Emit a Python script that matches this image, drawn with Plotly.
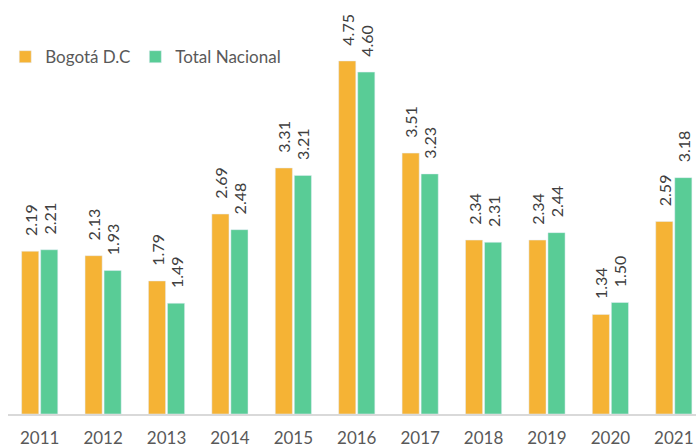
import plotly.graph_objects as go

years = ["2011", "2012", "2013", "2014", "2015", "2016", "2017", "2018", "2019", "2020", "2021"]
bogota = [2.19, 2.13, 1.79, 2.69, 3.31, 4.75, 3.51, 2.34, 2.34, 1.34, 2.59]
nacional = [2.21, 1.93, 1.49, 2.48, 3.21, 4.60, 3.23, 2.31, 2.44, 1.50, 3.18]

FONT = "Lato"
PAD = "\u00a0" * 3
fig = go.Figure()
for name, vals, col in [("Bogotá D.C", bogota, "#F5B335"), ("Total Nacional", nacional, "#59CC96")]:
    fig.add_trace(go.Bar(x=years, y=vals, name=name, marker_color=col,
                         texttemplate=PAD + "%{y:.2f}", textposition="outside", textangle=-90,
                         constraintext="none",
                         textfont=dict(size=16, color="#404040", family=FONT), cliponaxis=False))

fig.update_layout(
    width=696, height=448,
    margin=dict(l=8, r=0, t=0, b=34),
    plot_bgcolor="white", paper_bgcolor="white",
    barmode="group", bargap=0.4, bargroupgap=0.1,
    font=dict(family=FONT, color="#595959", size=16),
    legend=dict(orientation="h", x=-0.004, y=0.862, xanchor="left", yanchor="middle",
                font=dict(size=17, color="#595959"), bgcolor="rgba(0,0,0,0)",
                itemwidth=30, tracegroupgap=0),
    showlegend=True,
)
fig.update_xaxes(type="category", range=[-0.5, 10.35], showline=True, linecolor="#D9D9D9",
                 linewidth=2, ticks="", tickfont=dict(size=17, color="#595959"), showgrid=False,
                 ticklabelstandoff=8, automargin=False)
fig.update_yaxes(range=[0, 5.57], visible=False, showgrid=False)

fig.write_html("out.html")
